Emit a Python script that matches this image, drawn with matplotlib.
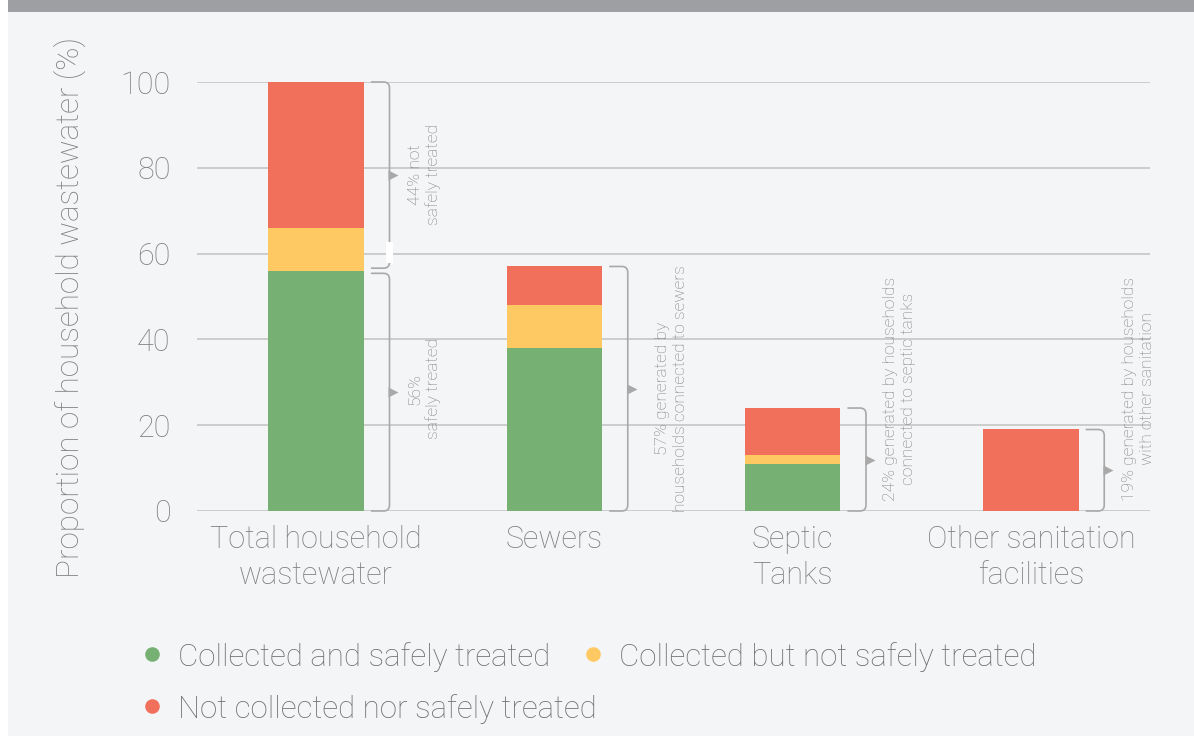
import matplotlib
matplotlib.use("Agg")
import matplotlib.pyplot as plt
from matplotlib.path import Path
from matplotlib.patches import PathPatch, Rectangle
import numpy as np

categories = ["Total household\nwastewater", "Sewers", "Septic\nTanks", "Other sanitation\nfacilities"]
safely_treated = [56, 38, 11, 0]
collected_not_safe = [10, 10, 2, 0]
not_collected = [34, 9, 11, 19]
series_names = ["Collected and safely treated", "Collected but not safely treated",
                "Not collected nor safely treated"]
yticks = [0, 20, 40, 60, 80, 100]
bracket_labels = ["56%\nsafely treated", "57% generated by\nhouseholds connected to sewers",
                  "24% generated by households\nconnected to septic tanks",
                  "19% generated by households\nwith other sanitation"]
top_bracket_label = "44% not\nsafely treated"

GREEN = "#76b072"
YELLOW = "#fec962"
RED = "#f1705c"
BG = "#f4f5f7"
GRID = "#c9c9c9"
TXT = "#7f7f7f"
BRK = "#a9a9a9"

plt.rcParams['font.family'] = ['Roboto', 'DejaVu Sans']

fig = plt.figure(figsize=(11.94, 7.36), dpi=100)
fig.patch.set_facecolor("white")
# background panel and top band
fig.patches.append(Rectangle((8/1194, 0), 1 - 8/1194, 1, transform=fig.transFigure,
                             facecolor=BG, edgecolor="none", zorder=-10))
fig.patches.append(Rectangle((8/1194, 1 - 12/736), 1 - 8/1194, 12/736, transform=fig.transFigure,
                             facecolor="#9e9fa3", edgecolor="none", zorder=-9))

ax = fig.add_axes([197/1194, (736-511)/736, (1150-197)/1194, (511-82)/736])
ax.set_facecolor("none")
x = np.arange(len(categories))
w = 0.4
s = np.array(safely_treated)
c = np.array(collected_not_safe)
n = np.array(not_collected)
ax.bar(x, s, w, color=GREEN, zorder=3)
ax.bar(x, c, w, bottom=s, color=YELLOW, zorder=3)
ax.bar(x, n, w, bottom=s + c, color=RED, zorder=3)

ax.set_xlim(-0.5, 3.5)
ax.set_ylim(0, 100)
ax.set_yticks(yticks)
ax.set_xticks(x)
ax.set_xticklabels(categories, linespacing=1.3)
for sp in ax.spines.values():
    sp.set_visible(False)
ax.grid(axis="y", color=GRID, lw=1.3, zorder=0)
ax.tick_params(axis="both", length=0, labelsize=22, labelcolor=TXT)
ax.tick_params(axis="y", pad=19)
ax.tick_params(axis="x", pad=10)
for lab in ax.get_xticklabels() + ax.get_yticklabels():
    lab.set_fontweight("light")

fig.text(70/1194, 1 - 308/736, "Proportion of household wastewater (%)", rotation=90,
         ha="center", va="center", fontsize=22.6, color=TXT, fontweight="light")


def bracket(xc, y0, y1):
    x0 = xc + w/2 + 0.03
    xv = xc + w/2 + 0.108
    rx = 0.025
    ry = 1.4
    verts = [(x0, y1), (xv - rx, y1), (xv, y1), (xv, y1 - ry),
             (xv, y0 + ry), (xv, y0), (xv - rx, y0), (x0, y0)]
    codes = [Path.MOVETO, Path.LINETO, Path.CURVE3, Path.CURVE3,
             Path.LINETO, Path.CURVE3, Path.CURVE3, Path.LINETO]
    ax.add_patch(PathPatch(Path(verts, codes), facecolor="none", edgecolor=BRK,
                           lw=1.2, clip_on=False, zorder=4))
    ax.plot([xv + 0.016], [(y0 + y1) / 2], marker=">", ms=7, color=BRK, mec="none",
            clip_on=False, zorder=4)


totals = s + c + n
# upper bracket for Total (not safely treated)
bracket(x[0], s[0] + 0.6, totals[0])
ax.text(x[0] + w/2 + 0.255, 78.5, top_bracket_label, rotation=90, ha="center", va="center",
        fontsize=12.5, color=TXT, linespacing=1.25, multialignment="center", fontweight="light")
# white gap marker
ax.add_patch(Rectangle((x[0] + w/2 + 0.095, 57.8), 0.028, 4.9, facecolor="white",
                       edgecolor="none", zorder=5, clip_on=False))
lower_tops = [s[0] - 0.6, totals[1], totals[2], totals[3]]
text_dx = [0.255, 0.29, 0.25, 0.25]
for i in range(4):
    bracket(x[i], 0, lower_tops[i])
    ax.text(x[i] + w/2 + text_dx[i], 28.5, bracket_labels[i], rotation=90, ha="center",
            va="center", fontsize=12.5, color=TXT, linespacing=1.25,
            multialignment="center", fontweight="light")

# legend
colors = [GREEN, YELLOW, RED]
pos = [(152, 654), (593, 654), (152, 706)]
for (px, py), col, name in zip(pos, colors, series_names):
    fig.lines.append(plt.Line2D([px/1194], [1 - py/736], transform=fig.transFigure,
                                marker="o", ms=10.5, color=col, mec="none", ls="none"))
    fig.text((px + 26)/1194, 1 - py/736, name, ha="left", va="center_baseline",
             fontsize=22.5, color="#707070", fontweight="light")

fig.savefig("out.png", dpi=100, facecolor=fig.get_facecolor())
